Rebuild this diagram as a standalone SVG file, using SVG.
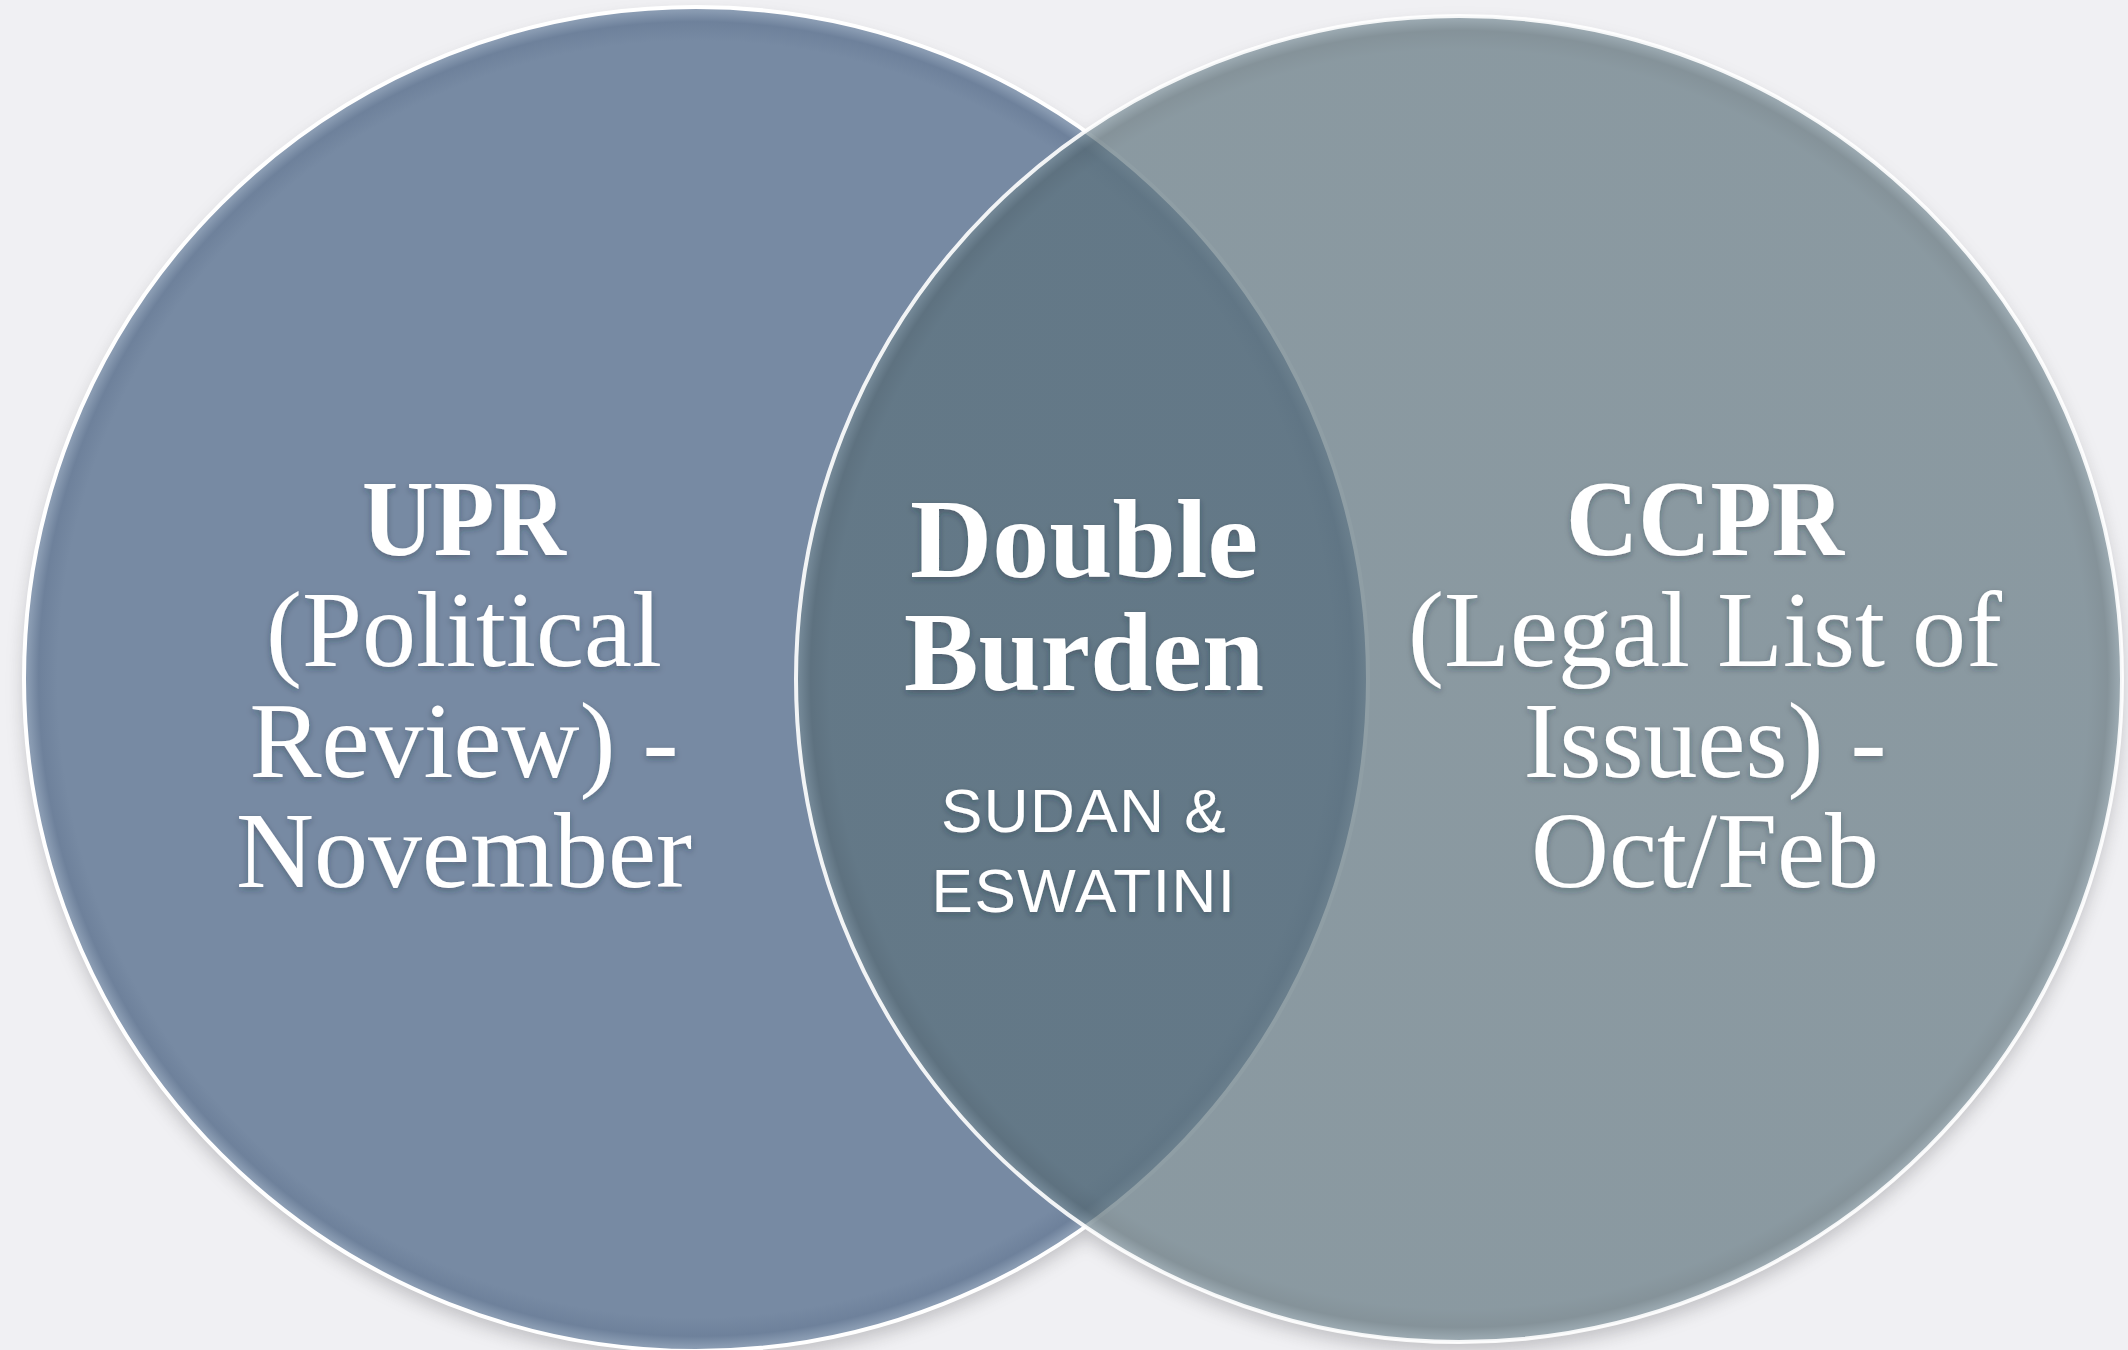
<svg xmlns="http://www.w3.org/2000/svg" width="2128" height="1350" viewBox="0 0 2128 1350">
<style>
.ser{font-family:"Liberation Serif","Times New Roman",serif;fill:#ffffff;text-anchor:middle;filter:url(#ts)}
.b{font-weight:bold}
.big{font-size:108px}
.mid{font-size:112px}
.san{font-family:"Liberation Sans",Arial,sans-serif;font-size:62px;fill:#ffffff;text-anchor:middle;letter-spacing:1.5px;filter:url(#ts)}
.edge{fill:none;stroke:#ffffff;stroke-width:4}
</style>
<defs>
<radialGradient id="gL" cx="0.5" cy="0.5" r="0.5">
<stop offset="0" stop-color="#778AA3"/>
<stop offset="0.95" stop-color="#778AA3"/>
<stop offset="0.978" stop-color="#6E819B"/>
<stop offset="0.993" stop-color="#8799B0"/>
<stop offset="1" stop-color="#8FA0B6"/>
</radialGradient>
<radialGradient id="gR" cx="0.5" cy="0.5" r="0.5">
<stop offset="0" stop-color="#5A707A"/>
<stop offset="0.95" stop-color="#5A707A"/>
<stop offset="0.978" stop-color="#52666F"/>
<stop offset="0.993" stop-color="#6D828C"/>
<stop offset="1" stop-color="#788C96"/>
</radialGradient>
<filter id="blur" x="-10%" y="-10%" width="120%" height="120%">
<feGaussianBlur stdDeviation="9"/>
</filter>
<filter id="ts" x="-10%" y="-20%" width="120%" height="150%">
<feDropShadow dx="0" dy="3" stdDeviation="3" flood-color="#1c2836" flood-opacity="0.35"/>
</filter>
<mask id="outside" maskUnits="userSpaceOnUse" x="0" y="0" width="2128" height="1350">
<rect x="0" y="0" width="2128" height="1350" fill="#ffffff"/>
<circle cx="696" cy="679" r="673" fill="#000000"/>
<circle cx="1459" cy="679" r="664" fill="#000000"/>
</mask>
</defs>
<rect x="0" y="0" width="2128" height="1350" fill="#F0F0F3"/>
<g id="shadows" mask="url(#outside)">
<g filter="url(#blur)" opacity="0.36">
<circle cx="696" cy="688" r="672" fill="#6a6a70"/>
<circle cx="1459" cy="688" r="663" fill="#6a6a70"/>
</g>
</g>
<g id="connectors"></g>
<g id="upr">
<circle cx="696" cy="679" r="672" fill="url(#gL)"/>
<circle class="edge" cx="696" cy="679" r="672"/>
</g>
<g id="ccpr">
<circle cx="1459" cy="679" r="663" fill="url(#gR)" fill-opacity="0.68"/>
<circle class="edge" cx="1459" cy="679" r="663" stroke-opacity="0.9"/>
</g>
<g id="upr-label">
<text class="ser b big" x="464" y="555" textLength="204" lengthAdjust="spacingAndGlyphs">UPR</text>
<text class="ser big" x="464" y="666">(Political</text>
<text class="ser big" x="464" y="777">Review) -</text>
<text class="ser big" x="464" y="887">November</text>
</g>
<g id="overlap-label">
<text class="ser b mid" x="1084" y="577" textLength="348" lengthAdjust="spacingAndGlyphs">Double</text>
<text class="ser b mid" x="1084" y="690" textLength="360" lengthAdjust="spacingAndGlyphs">Burden</text>
<text class="san" x="1084" y="832">SUDAN &amp;</text>
<text class="san" x="1084" y="912">ESWATINI</text>
</g>
<g id="ccpr-label">
<text class="ser b big" x="1705" y="555" textLength="278" lengthAdjust="spacingAndGlyphs">CCPR</text>
<text class="ser big" x="1705" y="666">(Legal List of</text>
<text class="ser big" x="1705" y="777">Issues) -</text>
<text class="ser big" x="1705" y="887">Oct/Feb</text>
</g>
</svg>
